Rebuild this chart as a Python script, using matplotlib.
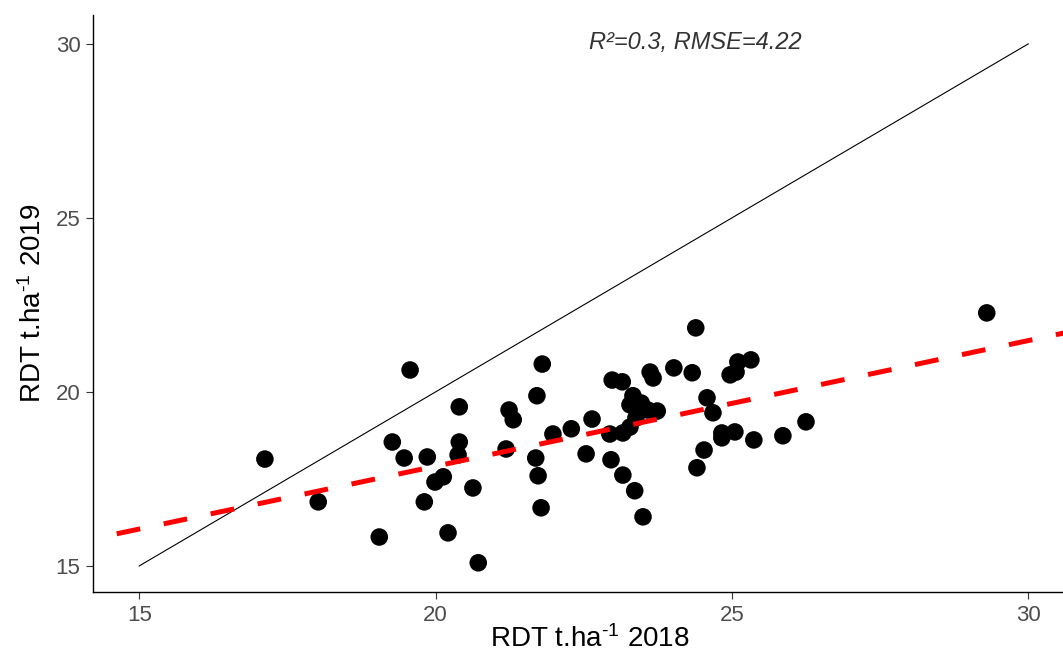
import matplotlib
matplotlib.use('Agg')
import matplotlib.pyplot as plt

plt.rcParams['font.family'] = ['Liberation Sans', 'DejaVu Sans']
plt.rcParams['mathtext.fontset'] = 'custom'
plt.rcParams['mathtext.rm'] = 'Liberation Sans'
plt.rcParams['mathtext.it'] = 'Liberation Sans:italic'

# yield 2018 vs yield 2019 (t/ha)
rdt_2018 = [17.12, 18.02, 19.05, 19.27, 19.47, 19.57, 19.81, 19.86, 19.99, 20.13,
            20.21, 20.38, 20.40, 20.40, 20.63, 20.72, 21.19, 21.24, 21.31, 21.69,
            21.71, 21.73, 21.78, 21.80, 21.98, 22.29, 22.54, 22.64, 22.96, 22.94,
            22.98, 23.15, 23.16, 23.16, 23.33, 23.28, 23.47, 23.58, 23.74, 23.38,
            23.28, 23.36, 23.50, 23.62, 23.67, 24.02, 24.33, 24.39, 24.41, 24.53,
            24.58, 24.68, 24.83, 24.83, 24.97, 25.05, 25.10, 25.07, 25.32, 25.37,
            25.86, 26.25, 29.30]
rdt_2019 = [18.07, 16.84, 15.83, 18.56, 18.10, 20.63, 16.84, 18.13, 17.41, 17.56,
            15.95, 18.19, 18.56, 19.57, 17.24, 15.09, 18.36, 19.48, 19.20, 18.10,
            19.89, 17.59, 16.67, 20.80, 18.79, 18.94, 18.22, 19.22, 18.05, 18.79,
            20.34, 20.29, 17.61, 18.82, 19.89, 19.63, 19.68, 19.48, 19.45, 19.25,
            18.99, 17.16, 16.41, 20.57, 20.40, 20.69, 20.55, 21.84, 17.82, 18.33,
            19.83, 19.40, 18.82, 18.68, 20.49, 18.85, 20.86, 20.57, 20.92, 18.62,
            18.74, 19.14, 22.27]

# fitted regression line
fit_intercept_at_15 = 16.06
fit_slope = 0.361
one_to_one = [15, 30]
ticks = [15, 20, 25, 30]

fig = plt.figure(figsize=(10.63, 6.52), dpi=100)
ax = fig.add_axes([0.0875, 0.092, 0.935, 0.885])

ax.plot(one_to_one, one_to_one, color='black', lw=0.8, zorder=2)
ax.scatter(rdt_2018, rdt_2019, s=160, color='black', edgecolors='none', zorder=3)

xfit = [14.62, 31.5]
yfit = [fit_intercept_at_15 + fit_slope * (x - 15) for x in xfit]
ax.plot(xfit, yfit, color='#FF0000', lw=3.6, dashes=(4.8, 4.8), zorder=4)

ax.text(24.38, 30.05, 'R²=0.3, RMSE=4.22', style='italic', fontsize=17,
        color='#333333', ha='center', va='center')

ax.set_xlim(14.22, 30.99)
ax.set_ylim(14.25, 30.83)
ax.set_xticks(ticks)
ax.set_yticks(ticks)
ax.tick_params(colors='#333333', labelcolor='#4D4D4D', labelsize=16, length=5, width=0.8, pad=4)
for side in ['top', 'right']:
    ax.spines[side].set_visible(False)
for side in ['left', 'bottom']:
    ax.spines[side].set_linewidth(1.0)

ax.set_xlabel(r'RDT t.ha$^{\text{-}1}$ 2018', fontsize=20, labelpad=0)
ax.set_ylabel(r'RDT t.ha$^{\text{-}1}$ 2019', fontsize=20, labelpad=6)

fig.savefig('out.png', dpi=100)
